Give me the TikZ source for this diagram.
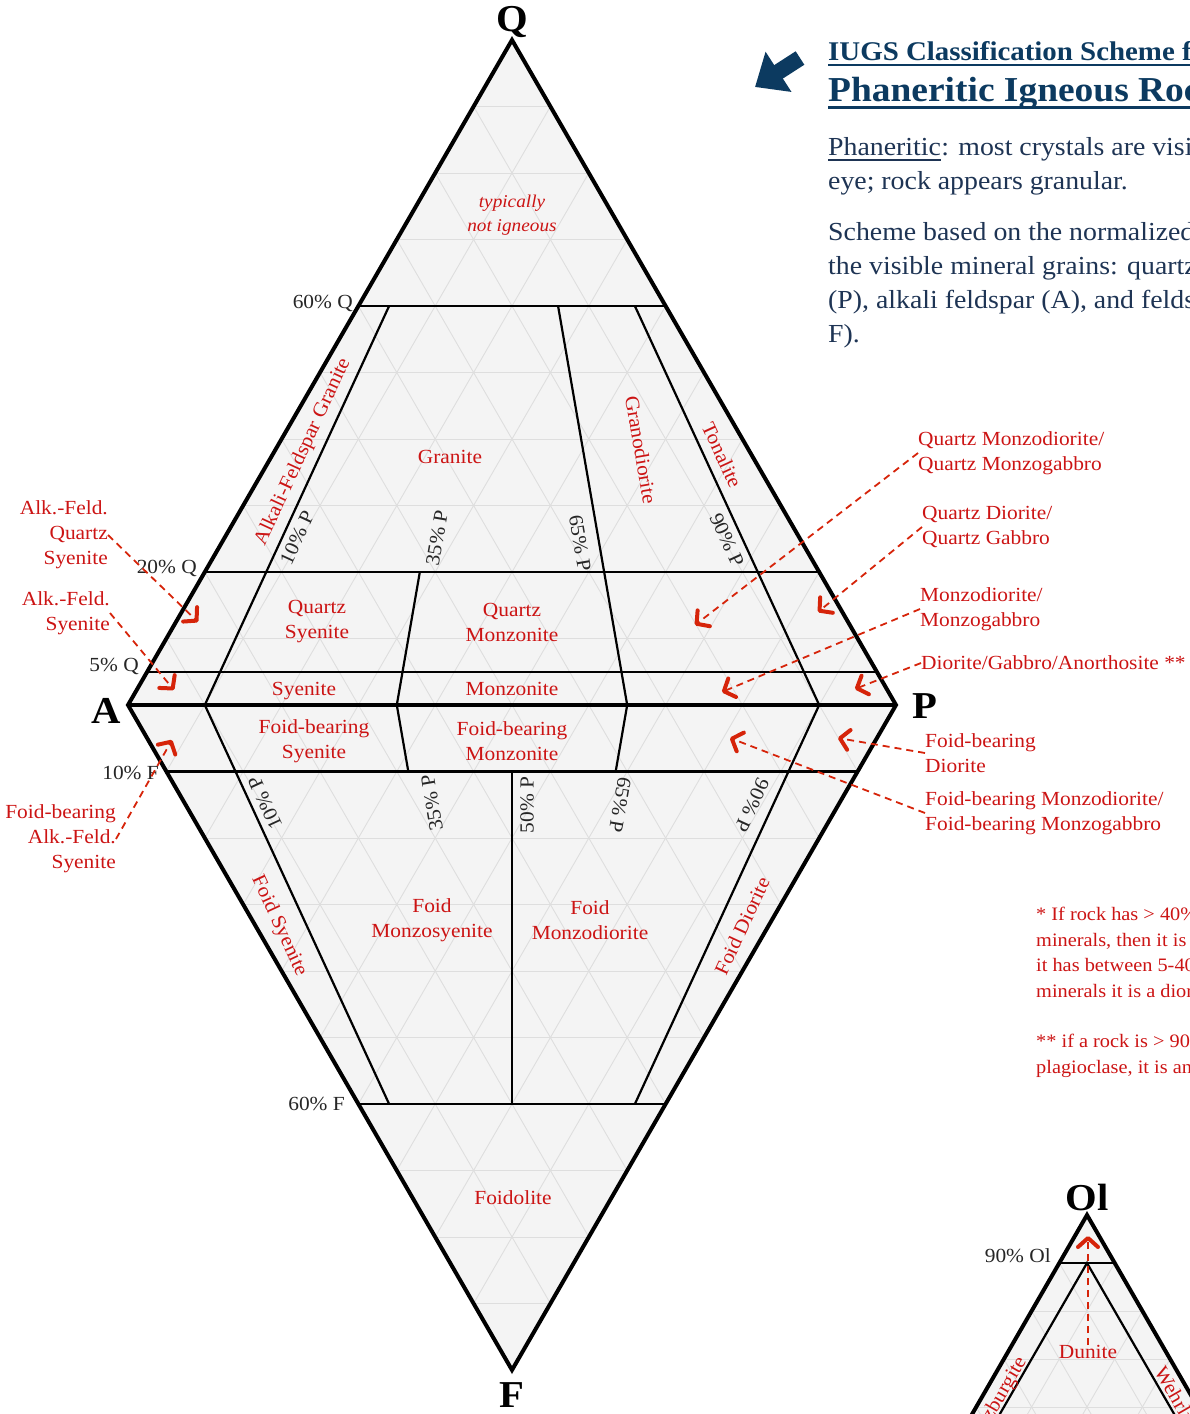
\documentclass[tikz,border=0pt]{standalone}
\usepackage{fontspec}
\setmainfont{Liberation Serif}[FakeStretch=1.07]
\usetikzlibrary{calc,arrows.meta}

\definecolor{labelred}{RGB}{204,20,20}
\definecolor{arrowred}{RGB}{214,36,10}
\definecolor{titleblue}{RGB}{12,58,96}
\definecolor{textblue}{RGB}{30,52,84}
\definecolor{panel}{RGB}{244,244,244}
\definecolor{gridgray}{RGB}{222,222,222}

\tikzset{
  rock/.style={text=labelred, font=\fontsize{20}{25}\selectfont, align=center, inner sep=0pt},
  pct/.style={text=black!85, font=\fontsize{20}{24}\selectfont, inner sep=0pt},
  apex/.style={font=\fontsize{38}{40}\selectfont\bfseries, inner sep=0pt},
  field/.style={line width=2.2pt},
  rim/.style={line width=4pt},
  gridline/.style={gridgray, line width=0.9pt},
  pointer/.style={arrowred, line width=1.8pt, dash pattern=on 7pt off 5pt,
    -{Straight Barb[length=9pt,width=20pt,line width=4pt,round]}},
  blurb/.style={anchor=base west, inner sep=0pt, text=textblue, font=\fontsize{26}{34}\selectfont},
}

\begin{document}
\begin{tikzpicture}[x=1pt,y=-1pt]
	\useasboundingbox (0,0) rectangle (1190,1414);
	\clip (0,0) rectangle (1190,1414);

	% corners
	\coordinate (A) at (128,705);
	\coordinate (P) at (896,705);
	\coordinate (Q) at (512,40);
	\coordinate (F) at (512,1370);
	\coordinate (Ol) at (1087,1215);
	\coordinate (Opx) at (810,1695);
	\coordinate (Cpx) at (1364,1695);

	\fill[panel] (A) -- (Q) -- (P) -- (F) -- cycle;
	\fill[panel] (Ol) -- (Opx) -- (Cpx) -- cycle;

	% 10% grid
	\foreach \i in {1,...,9}{
		\pgfmathsetmacro{\fr}{\i/10}
		\draw[gridline] ($(A)!\fr!(Q)$) -- ($(P)!\fr!(Q)$);
		\draw[gridline] ($(A)!\fr!(P)$) -- ($(A)!\fr!(Q)$);
		\draw[gridline] ($(P)!\fr!(A)$) -- ($(P)!\fr!(Q)$);
		\draw[gridline] ($(A)!\fr!(F)$) -- ($(P)!\fr!(F)$);
		\draw[gridline] ($(A)!\fr!(P)$) -- ($(A)!\fr!(F)$);
		\draw[gridline] ($(P)!\fr!(A)$) -- ($(P)!\fr!(F)$);
		\draw[gridline] ($(Ol)!\fr!(Opx)$) -- ($(Ol)!\fr!(Cpx)$);
		\draw[gridline] ($(Opx)!\fr!(Cpx)$) -- ($(Opx)!\fr!(Ol)$);
		\draw[gridline] ($(Cpx)!\fr!(Opx)$) -- ($(Cpx)!\fr!(Ol)$);
	}

	% field boundaries
	\foreach \r in {10,35,50,65,90}
		\coordinate (b\r) at ($(A)!\r/100!(P)$);
	\draw[field] ($(A)!0.6!(Q)$) -- ($(P)!0.6!(Q)$);
	\draw[field] ($(A)!0.2!(Q)$) -- ($(P)!0.2!(Q)$);
	\draw[field] ($(A)!0.05!(Q)$) -- ($(P)!0.05!(Q)$);
	\draw[field] ($(A)!0.1!(F)$) -- ($(P)!0.1!(F)$);
	\draw[field] ($(A)!0.6!(F)$) -- ($(P)!0.6!(F)$);
	\draw[field] ($(b10)!0.6!(Q)$) -- (b10) -- ($(b10)!0.6!(F)$);
	\draw[field] ($(b35)!0.2!(Q)$) -- (b35) -- ($(b35)!0.1!(F)$);
	\draw[field] ($(b50)!0.1!(F)$) -- ($(b50)!0.6!(F)$);
	\draw[field] ($(b65)!0.6!(Q)$) -- (b65) -- ($(b65)!0.1!(F)$);
	\draw[field] ($(b90)!0.6!(Q)$) -- (b90) -- ($(b90)!0.6!(F)$);
	\draw[rim] (A) -- (Q) -- (P) -- (F) -- cycle;
	\draw[rim] (A) -- (P);

	% ultramafic corner
	\coordinate (ol90) at (1087,1263);
	\draw[field] ($(Ol)!0.1!(Opx)$) -- ($(Ol)!0.1!(Cpx)$);
	\draw[field] ($(Opx)!0.05!(Cpx)$) -- (ol90) -- ($(Cpx)!0.05!(Opx)$);
	\draw[rim] (Opx) -- (Ol) -- (Cpx);

	% corner letters
	\node[apex] (lQ) at (512,22) {Q};
	\node[apex] (lA) at (106,711) {A};
	\node[apex] (lP) at (925,706) {P};
	\node[apex] (lF) at (512,1395) {F};
	\node[apex] (lOl) at (1087,1197) {Ol};

	% percent marks
	\node[pct, anchor=east] (m60Q) at (353,303) {60\% Q};
	\node[pct, anchor=east] (m20Q) at (197,568) {20\% Q};
	\node[pct, anchor=east] (m5Q) at (139,666) {5\% Q};
	\node[pct, anchor=east] (m10F) at (159,773) {10\% F};
	\node[pct, anchor=east] (m60F) at (345,1104) {60\% F};
	\node[pct, anchor=east] (m90Ol) at (1051,1256) {90\% Ol};
	\node[pct, rotate=65.2] (u10) at (297,538) {10\% P};
	\node[pct, rotate=80.2] (u35) at (437,538) {35\% P};
	\node[pct, rotate=-80.2] (u65) at (580,543) {65\% P};
	\node[pct, rotate=-65.2] (u90) at (727,540) {90\% P};
	\node[pct, rotate=114.8] (d10) at (265,803) {10\% P};
	\node[pct, rotate=99.8] (d35) at (432,803) {35\% P};
	\node[pct, rotate=90] (d50) at (527,805) {50\% P};
	\node[pct, rotate=-99.8] (d65) at (620,805) {65\% P};
	\node[pct, rotate=-114.8] (d90) at (752,805) {90\% P};

	% rock fields
	\node[rock, font=\fontsize{18}{24}\selectfont\itshape] (nig) at (512,215) {typically\\not igneous};
	\node[rock, rotate=65.2] (afg) at (303,452) {Alkali-Feldspar Granite};
	\node[rock] (gra) at (450,457) {Granite};
	\node[rock, rotate=-80.2] (grd) at (641,450) {Granodiorite};
	\node[rock, rotate=-65.2] (ton) at (722,455) {Tonalite};
	\node[rock] (qsy) at (317,622) {Quartz\\Syenite};
	\node[rock] (qmz) at (512,622) {Quartz\\Monzonite};
	\node[rock] (sye) at (304,691) {Syenite};
	\node[rock] (mzn) at (512,689) {Monzonite};
	\node[rock] (fsy) at (314,741) {Foid-bearing\\Syenite};
	\node[rock] (fmz) at (512,741) {Foid-bearing\\Monzonite};
	\node[rock, rotate=-65.2] (fsye) at (279,926) {Foid Syenite};
	\node[rock] (fms) at (432,920) {Foid\\Monzosyenite};
	\node[rock] (fmd) at (590,920) {Foid\\Monzodiorite};
	\node[rock, rotate=65.2] (fdi) at (742,926) {Foid Diorite};
	\node[rock] (fol) at (513,1198) {Foidolite};
	\node[rock] (dun) at (1088,1352) {Dunite};
	\node[rock, rotate=60] (hzb) at (997,1403) {Harzburgite};
	\node[rock, rotate=-60] (weh) at (1178,1400) {Wehrlite};

	% call-outs
	\node[rock, align=right, anchor=east] (cAQS) at (108,535) {Alk.-Feld.\\Quartz\\Syenite};
	\node[rock, align=right, anchor=east] (cAS) at (110,613) {Alk.-Feld.\\Syenite};
	\node[rock, align=right, anchor=east] (cFAS) at (116,839) {Foid-bearing\\Alk.-Feld.\\Syenite};
	\node[rock, align=left, anchor=west] (cQMD) at (918,453) {Quartz Monzodiorite/\\Quartz Monzogabbro};
	\node[rock, align=left, anchor=west] (cQD) at (922,527) {Quartz Diorite/\\Quartz Gabbro};
	\node[rock, align=left, anchor=west] (cMD) at (920,609) {Monzodiorite/\\Monzogabbro};
	\node[rock, align=left, anchor=west] (cDGA) at (921,663) {Diorite/Gabbro/Anorthosite **};
	\node[rock, align=left, anchor=west] (cFD) at (925,753) {Foid-bearing\\Diorite};
	\node[rock, align=left, anchor=west] (cFMD) at (925,813) {Foid-bearing Monzodiorite/\\Foid-bearing Monzogabbro};

	\coordinate (tAQS) at (198,622);
	\coordinate (tAS) at (174,690);
	\coordinate (tFAS) at (172,740);
	\coordinate (tQMD) at (695,625);
	\coordinate (tQD) at (818,612);
	\coordinate (tMD) at (722,692);
	\coordinate (tDGA) at (855,689);
	\coordinate (tFD) at (838,738);
	\coordinate (tFMD) at (730,738);
	\coordinate (tDun) at (1088,1236);
	\draw[pointer] (cAQS.east) -- (tAQS);
	\draw[pointer] (cAS.east) -- (tAS);
	\draw[pointer] (cFAS.east) -- (tFAS);
	\draw[pointer] (cQMD.west) -- (tQMD);
	\draw[pointer] (cQD.west) -- (tQD);
	\draw[pointer] (cMD.west) -- (tMD);
	\draw[pointer] (cDGA.west) -- (tDGA);
	\draw[pointer] (cFD.west) -- (tFD);
	\draw[pointer] (cFMD.west) -- (tFMD);
	\draw[pointer] (dun.north) -- (tDun);

	% heading and notes
	\coordinate (bluetail) at (800,58);
	\coordinate (bluetip) at (755,87);
	\draw[titleblue, line width=16pt, -{Triangle[length=28pt,width=46pt]}] (bluetail) -- (bluetip);
	\node[anchor=base west, inner sep=0pt, text=titleblue, font=\fontsize{27}{30}\selectfont\bfseries] (ttlA) at (828,60)
		{IUGS Classification Scheme for};
	\node[anchor=base west, inner sep=0pt, text=titleblue, font=\fontsize{35}{38}\selectfont\bfseries] (ttlB) at (828,101)
		{Phaneritic Igneous Rocks};
	\draw[titleblue, line width=2.6pt] ([yshift=-5pt]ttlA.base west) -- ([yshift=-5pt]ttlA.base east);
	\draw[titleblue, line width=3pt] ([yshift=-6pt]ttlB.base west) -- ([yshift=-6pt]ttlB.base east);

	\node[blurb] (phw) at (828,155) {Phaneritic};
	\node[blurb] (phr) at (phw.base east) {: most crystals are visible to the naked};
	\node[blurb] (eye) at (828,189) {eye; rock appears granular.};
	\draw[textblue, line width=1.8pt] ([yshift=-5pt]phw.base west) -- ([yshift=-5pt]phw.base east);
	\node[blurb, anchor=north west, align=left] (txtB) at (828,222)
		{Scheme based on the normalized proportions of\\the visible mineral grains: quartz (Q), plagioclase\\(P), alkali feldspar (A), and feldspathoids (foids,\\F).};
	\node[anchor=north west, inner sep=0pt, text=labelred, align=left, font=\fontsize{19}{25.5}\selectfont] (noteA) at (1036,907)
		{* If rock has > 40\% mafic\\minerals, then it is a gabbro. If\\it has between 5-40\% mafic\\minerals it is a diorite.};
	\node[anchor=north west, inner sep=0pt, text=labelred, align=left, font=\fontsize{19}{25.5}\selectfont] (noteB) at (1036,1034)
		{** if a rock is > 90\%\\plagioclase, it is an anorthosite.};
\end{tikzpicture}
\end{document}
